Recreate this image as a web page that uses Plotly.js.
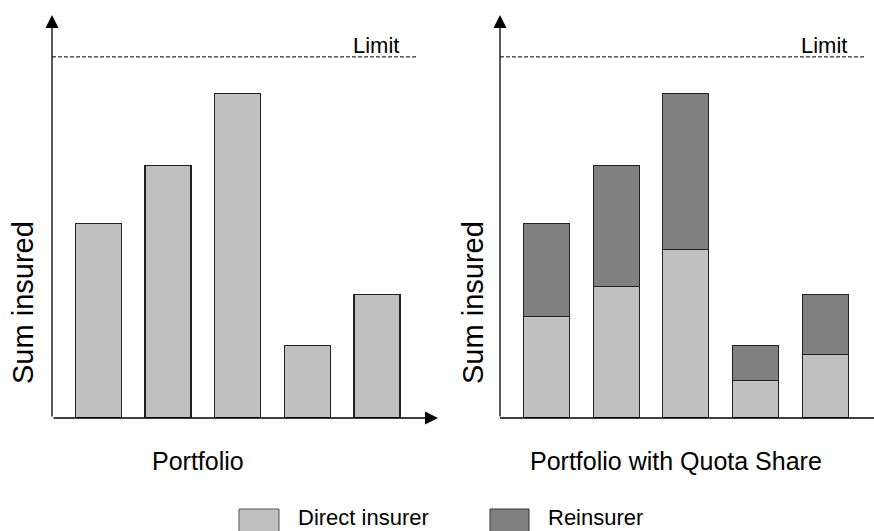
<!DOCTYPE html>
<html>
<head>
<meta charset="utf-8">
<script src="https://cdn.plot.ly/plotly-3.0.1.min.js"></script>
<style>html,body{margin:0;padding:0;background:#fff;}#chart{width:874px;height:531px;}</style>
</head>
<body>
<div id="chart"></div>
<script>
// ---- data (arbitrary units: limit = 100) ----
const risks = ["Risk 1", "Risk 2", "Risk 3", "Risk 4", "Risk 5"];
const portfolioTotal = [53.8, 70.0, 89.8, 20.0, 34.1];
const directShare    = [28.1, 36.3, 46.7, 10.3, 17.7];
const reinsurerShare = [25.7, 33.7, 43.1, 9.7, 16.4];
const limitValue = 100;
const labels = {
  yTitle: "Sum insured",
  leftTitle: "Portfolio",
  rightTitle: "Portfolio with Quota Share",
  limit: "Limit",
  direct: "Direct insurer",
  reinsurer: "Reinsurer"
};

// ---- helpers for pixel placement of decorations ----
const W = 874, H = 531;
const px = x => x / W;
const py = y => (H - y) / H;

const LIGHT = "#c0c0c0", DARK = "#808080", EDGE = "#222";
const FONT = "Liberation Sans, Arial, sans-serif";
const idx = risks.map((_, i) => i);

const traces = [
  { type: "bar", x: idx, y: portfolioTotal, xaxis: "x", yaxis: "y", name: labels.direct,
    text: risks, textposition: "none", hoverinfo: "y",
    marker: { color: LIGHT, line: { color: EDGE, width: 1.1 } }, showlegend: false },
  { type: "bar", x: idx, y: directShare, xaxis: "x2", yaxis: "y2", name: labels.direct,
    textposition: "none", hoverinfo: "y",
    marker: { color: LIGHT, line: { color: EDGE, width: 1.1 } }, showlegend: false },
  { type: "bar", x: idx, y: reinsurerShare, xaxis: "x2", yaxis: "y2", name: labels.reinsurer,
    textposition: "none", hoverinfo: "y",
    marker: { color: DARK, line: { color: EDGE, width: 1.1 } }, showlegend: false }
];

const yDomain = [py(418), py(15)];
const yRange = [0, 111.6];
const hidden = { showgrid: false, zeroline: false, showline: false, showticklabels: false, ticks: "", fixedrange: true };

function arrow(xTip, yTip, axOff, ayOff) {
  return { xref: "paper", yref: "paper", x: px(xTip), y: py(yTip), ax: axOff, ay: ayOff,
    text: "", showarrow: true, arrowhead: 2, arrowsize: 2.0, arrowwidth: 1.3,
    arrowcolor: "#000", standoff: 0, startstandoff: 0 };
}
function label(txt, x, y, size, xanchor, angle) {
  return { xref: "paper", yref: "paper", x: px(x), y: py(y), text: txt, showarrow: false,
    xanchor: xanchor || "center", yanchor: "middle", textangle: angle || 0,
    font: { family: FONT, size: size, color: "#000" } };
}

const layout = {
  width: W, height: H,
  margin: { l: 0, r: 0, t: 0, b: 0, pad: 0 },
  paper_bgcolor: "#fff", plot_bgcolor: "rgba(0,0,0,0)",
  barmode: "stack", bargap: 0.34,
  showlegend: false,
  xaxis:  Object.assign({ domain: [px(52), px(438)], range: [-0.665, 4.876], anchor: "y" }, hidden),
  yaxis:  Object.assign({ domain: yDomain, range: yRange, anchor: "x" }, hidden),
  xaxis2: Object.assign({ domain: [px(500), 1], range: [-0.668, 4.70], anchor: "y2" }, hidden),
  yaxis2: Object.assign({ domain: yDomain, range: yRange, anchor: "x2" }, hidden),
  shapes: [
    { type: "line", xref: "paper", yref: "y", x0: px(52), x1: px(416), y0: limitValue, y1: limitValue,
      line: { color: "#000", width: 1, dash: "4px,2px" } },
    { type: "line", xref: "paper", yref: "y2", x0: px(500), x1: px(865), y0: limitValue, y1: limitValue,
      line: { color: "#000", width: 1, dash: "4px,2px" } },
    { type: "line", xref: "paper", yref: "paper", x0: px(500), x1: 1, y0: py(418), y1: py(418),
      line: { color: "#000", width: 1.3 } },
    { type: "rect", xref: "paper", yref: "paper", x0: px(239), x1: px(279), y0: py(509), y1: py(533),
      fillcolor: LIGHT, line: { color: "#555", width: 1 } },
    { type: "rect", xref: "paper", yref: "paper", x0: px(490), x1: px(529), y0: py(509), y1: py(533),
      fillcolor: DARK, line: { color: "#333", width: 1 } }
  ],
  annotations: [
    arrow(52, 15, 0, 403),
    arrow(438, 418, -386, 0),
    arrow(500, 15, 0, 403),
    label(labels.limit, 401, 45, 22, "right"),
    label(labels.limit, 849, 45, 22, "right"),
    label(labels.yTitle, 23, 303, 29, "center", -90),
    label(labels.yTitle, 473, 303, 29, "center", -90),
    label(labels.leftTitle, 198, 461, 25),
    label(labels.rightTitle, 676, 461, 25),
    label(labels.direct, 296, 517, 22, "left"),
    label(labels.reinsurer, 546, 517, 22, "left")
  ]
};

Plotly.newPlot("chart", traces, layout, { staticPlot: true, displayModeBar: false });
</script>
</body>
</html>
